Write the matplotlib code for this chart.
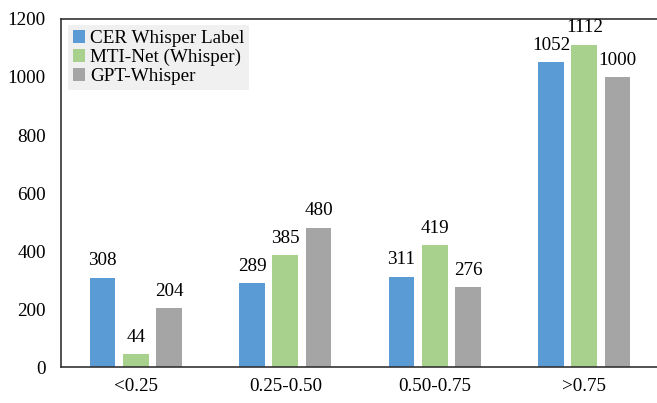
import numpy as np
import matplotlib
matplotlib.use('Agg')
import matplotlib.pyplot as plt

plt.rcParams['font.family'] = ['Liberation Serif', 'DejaVu Serif']

categories = ['<0.25', '0.25-0.50', '0.50-0.75', '>0.75']
series_names = ['CER Whisper Label', 'MTI-Net (Whisper)', 'GPT-Whisper']
cer_label = [308, 289, 311, 1052]
mti_net = [44, 385, 419, 1112]
gpt_whisper = [204, 480, 276, 1000]
colors = ['#5B9BD5', '#A9D18E', '#A5A5A5']
fs = 13.8

fig = plt.figure(figsize=(6.57, 4.03), dpi=100)
ax = fig.add_axes([61 / 657, 1 - 367 / 403, 598 / 657, 348 / 403])

x = np.arange(len(categories))
width = 0.172
pitch = 0.222
for i, (vals, name) in enumerate(zip([cer_label, mti_net, gpt_whisper], series_names)):
    pos = x + (i - 1) * pitch
    bars = ax.bar(pos, vals, width, color=colors[i], label=name)
    for b, v in zip(bars, vals):
        ax.annotate(str(v), (b.get_x() + b.get_width() / 2, v),
                    xytext=(0, 6), textcoords='offset points',
                    ha='center', va='bottom', fontsize=fs)

ax.set_xlim(-0.5, 3.5)
ax.set_ylim(0, 1200)
ax.set_yticks(range(0, 1201, 200))
ax.set_xticks(x)
ax.set_xticklabels(categories)
ax.tick_params(axis='both', length=0, labelsize=fs, colors='black')
ax.tick_params(axis='y', pad=11)
ax.tick_params(axis='x', pad=8)
ax.spines['right'].set_visible(False)
for s in ['left', 'top', 'bottom']:
    ax.spines[s].set_color('#333333')
    ax.spines[s].set_linewidth(1.2)

leg = ax.legend(loc='upper left', bbox_to_anchor=(0.012, 0.983), fontsize=fs,
                frameon=True, fancybox=False, handlelength=0.65, handleheight=0.65,
                handletextpad=0.25, borderpad=0.25, labelspacing=0.1,
                borderaxespad=0)
leg.get_frame().set_facecolor('#F0F0F0')
leg.get_frame().set_edgecolor('none')
leg.get_frame().set_alpha(1)

fig.savefig('out.png', dpi=100)
